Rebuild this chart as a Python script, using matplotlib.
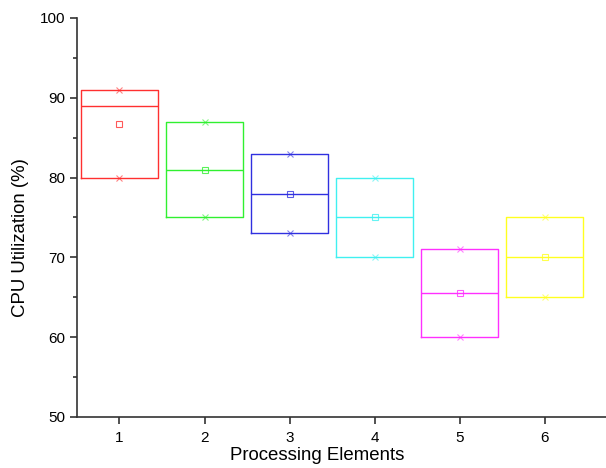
import matplotlib
matplotlib.use("Agg")
import matplotlib.pyplot as plt
from matplotlib.ticker import MultipleLocator

# data
elements = [1, 2, 3, 4, 5, 6]
mins = [80, 75, 73, 70, 60, 65]
maxs = [91, 87, 83, 80, 71, 75]
medians = [89, 81, 78, 75, 65.5, 70]
means = [86.7, 81, 78, 75, 65.5, 70]
colors = ["#FF3030", "#30F030", "#3030E0", "#40F0F0", "#FF30FF", "#FFFF20"]

plt.rcParams["font.family"] = ["Liberation Sans", "DejaVu Sans"]

fig = plt.figure(figsize=(6.06, 4.68), dpi=100)
ax = fig.add_axes([0.127, 0.109, 0.873, 0.8526])

for i, x in enumerate(elements):
    stats = [{
        "med": medians[i], "q1": mins[i], "q3": maxs[i],
        "whislo": mins[i], "whishi": maxs[i], "mean": means[i],
    }]
    c = colors[i]
    ax.bxp(stats, positions=[x], widths=0.9, showcaps=False, showfliers=False,
           showmeans=True, manage_ticks=False,
           boxprops=dict(color=c, linewidth=1.0),
           medianprops=dict(color=c, linewidth=1.0),
           whiskerprops=dict(color=c, linewidth=0),
           meanprops=dict(marker="s", markersize=4, markerfacecolor="none",
                          markeredgecolor=c, markeredgewidth=0.8, alpha=0.8))
    ax.plot([x, x], [mins[i], maxs[i]], linestyle="none", marker="x",
            markersize=4, color=c, markeredgewidth=0.8, alpha=0.6)

ax.set_xlim(0.5, 6.72)
ax.set_ylim(50, 100)
ax.set_xticks(elements)
ax.yaxis.set_major_locator(MultipleLocator(10))
ax.yaxis.set_minor_locator(MultipleLocator(5))

for side in ["top", "right"]:
    ax.spines[side].set_visible(False)
for side in ["left", "bottom"]:
    ax.spines[side].set_color("#333333")
    ax.spines[side].set_linewidth(1.2)

ax.tick_params(which="major", direction="out", length=5, width=1.2,
               color="#333333", labelsize=11)
ax.tick_params(axis="x", which="major", pad=5)
ax.tick_params(axis="y", which="major", pad=3.5)
ax.tick_params(which="minor", direction="out", length=3, width=1.2,
               color="#333333")

ax.set_xlabel("Processing Elements", fontsize=13.4)
ax.set_ylabel("CPU Utilization (%)", fontsize=13.4)
ax.xaxis.set_label_coords(0.454, -0.075)
ax.yaxis.set_label_coords(-0.09, 0.45)

fig.savefig("out.png", dpi=100)
